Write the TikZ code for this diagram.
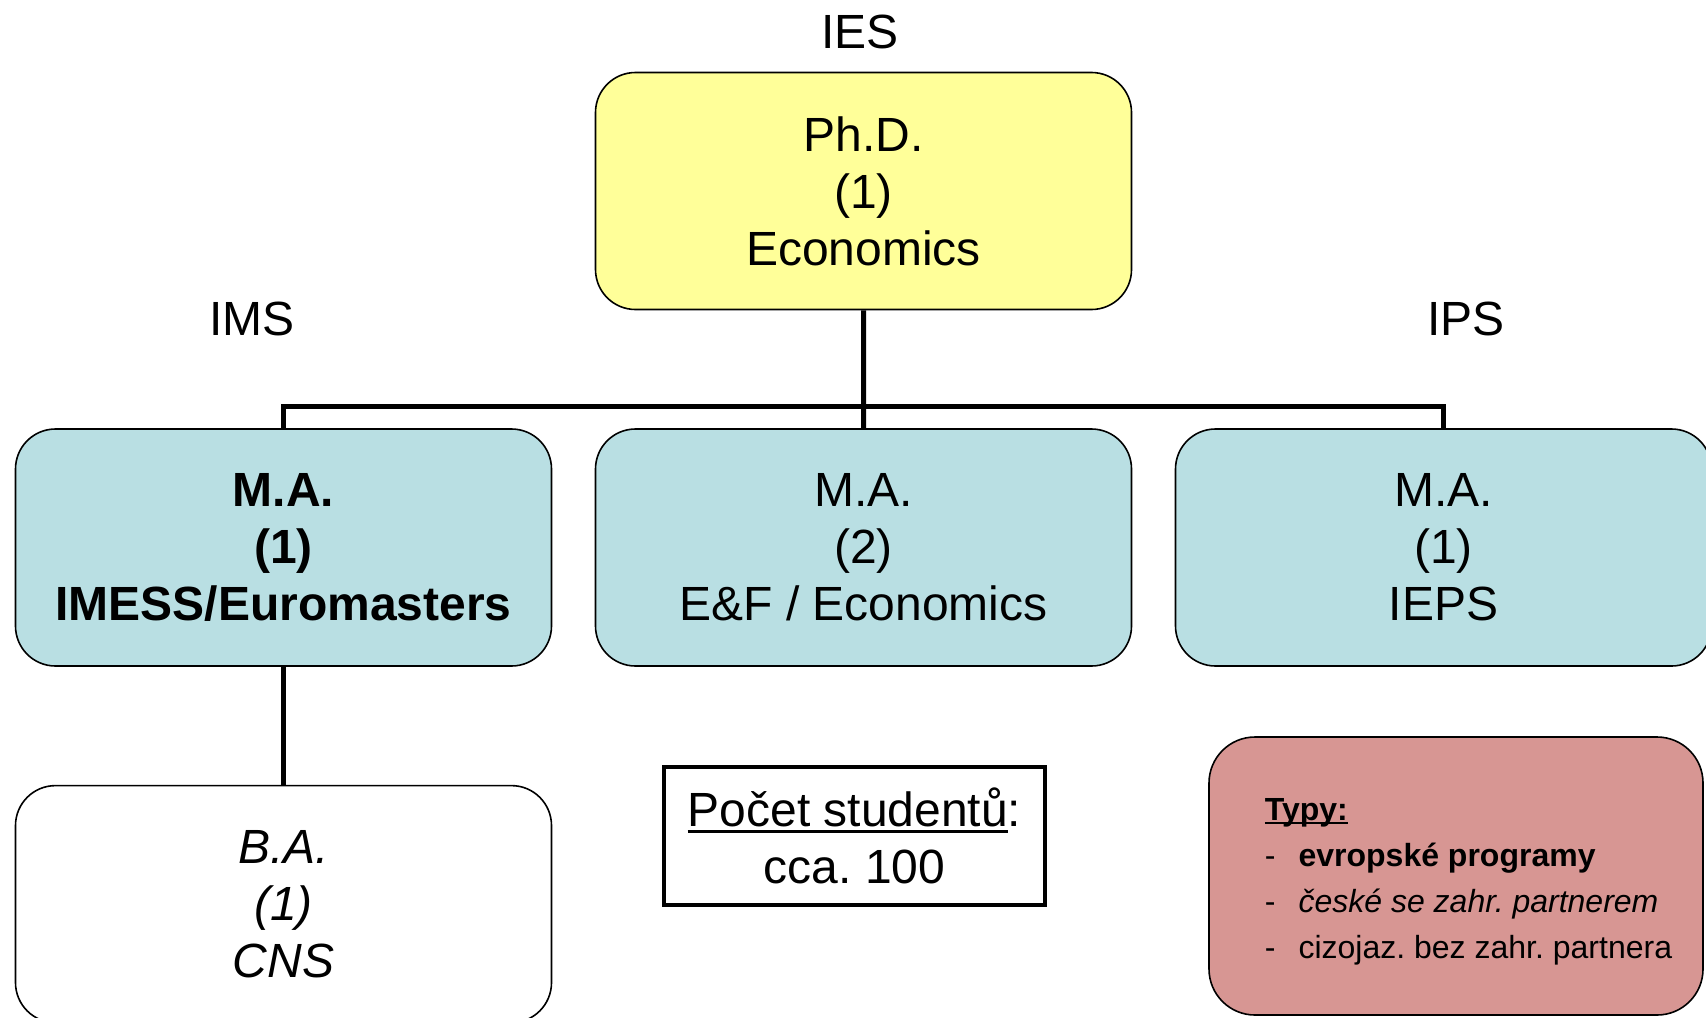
\documentclass[tikz,border=0pt]{standalone}
\usepackage{fontspec}
\setmainfont{Liberation Sans}
\usetikzlibrary{positioning}
\frenchspacing

\definecolor{phdyellow}{RGB}{255,255,153}
\definecolor{mablue}{RGB}{185,223,227}
\definecolor{typyred}{RGB}{215,150,147}

% underline at a fixed depth, through the descenders
\newcommand{\undl}[1]{\setbox0\hbox{#1}\rlap{\rule[-0.13em]{\wd0}{0.065em}}\box0}

\begin{document}
\begin{tikzpicture}[
    x=0.5pt, y=-0.5pt,
    bigfont/.style={font=\fontsize{24}{28.5}\selectfont},
    pbox/.style={draw, bigfont, rounded corners=20pt, line width=0.8pt, minimum width=268pt, minimum height=118.5pt, align=center, inner sep=0},
    conn/.style={line width=2.5pt, draw=black},
    ulabel/.style={bigfont, inner sep=0, anchor=base}
]
\useasboundingbox (0,0) rectangle (1706,1017);

% Ph.D.
\node[pbox, fill=phdyellow] (phd) at (863.5,191) {Ph.D.\\(1)\\Economics};
\node[ulabel] (ies) at (860,48) {IES};

% M.A. row
\node[pbox, fill=mablue, font=\fontsize{24}{28.5}\selectfont\bfseries] (ma1) at (283.5,547.5) {M.A.\\(1)\\IMESS/Euromasters};
\node[pbox, fill=mablue, right=21.2pt of ma1] (ma2) {M.A.\\(2)\\E\&F / Economics};
\node[pbox, fill=mablue, right=21.2pt of ma2] (ma3) {M.A.\\(1)\\IEPS};
\node[ulabel] (ims) at (252,335) {IMS};
\node[ulabel] (ips) at (1466,335) {IPS};

% B.A.
\node[pbox, fill=white, font=\fontsize{24}{28.5}\selectfont\itshape, below=59pt of ma1] (ba) {B.A.\\(1)\\CNS};

% connectors
\coordinate (bar) at (863.5,406);
\draw[conn] (phd.south) -- (ma2.north);
\draw[conn] (ma1.north) -- (ma1.north |- bar) -- (ma3.north |- bar) -- (ma3.north);
\draw[conn] (ma1.south) -- (ba.north);

% Pocet studentu
\node[draw, bigfont, line width=1.6pt, minimum width=190.5pt, minimum height=69pt, align=center, inner sep=0] (pocet) at (854.5,836) {\undl{Počet studentů}:\\cca. 100};

% Typy
\node[draw, fill=typyred, rounded corners=23pt, line width=0.8pt, minimum width=247pt, minimum height=139pt, inner sep=0, font=\fontsize{16}{23}\selectfont] (typy) at (1456,876) {%
  \raisebox{-2pt}[\height][\depth]{%
  \begin{tabular}{@{\hspace{12.5pt}}l@{\hspace{11.5pt}}l@{}}
    \multicolumn{2}{@{\hspace{12.5pt}}l@{}}{\undl{\textbf{Typy:}}}\\
    - & \textbf{evropské programy}\\
    - & \textit{české se zahr. partnerem}\\
    - & cizojaz. bez zahr. partnera
  \end{tabular}}};

\end{tikzpicture}
\end{document}
